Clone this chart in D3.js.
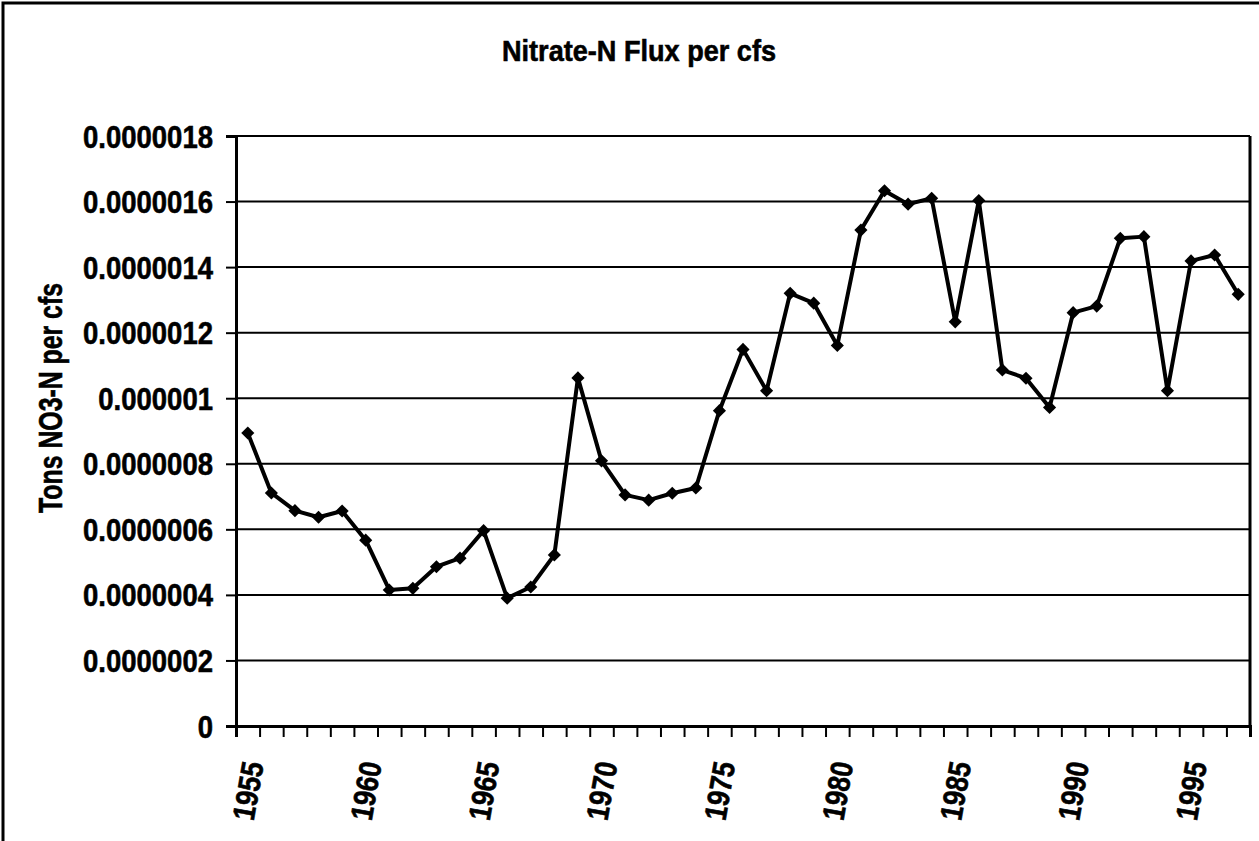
<!DOCTYPE html>
<html>
<head>
<meta charset="utf-8">
<script src="https://cdn.jsdelivr.net/npm/d3@7"></script>
<style>
  body { margin: 0; background: #fff; }
  text { font-family: "Liberation Sans", Arial, sans-serif; font-weight: bold; fill: #000; stroke: #000; stroke-width: 0.6; }
</style>
</head>
<body>
<div id="chart"></div>
<script>
// years on the category axis
const years = d3.range(1955, 1998);
// Nitrate-N flux per cfs (tons)
const flux = [
  8.94e-7, 7.11e-7, 6.57e-7, 6.37e-7, 6.56e-7, 5.67e-7, 4.15e-7, 4.2e-7, 4.86e-7, 5.12e-7,
  5.96e-7, 3.9e-7, 4.24e-7, 5.22e-7, 10.62e-7, 8.09e-7, 7.05e-7, 6.89e-7, 7.1e-7, 7.26e-7,
  9.62e-7, 11.49e-7, 10.23e-7, 13.2e-7, 12.9e-7, 11.61e-7, 15.13e-7, 16.33e-7, 15.92e-7, 16.1e-7,
  12.33e-7, 16.03e-7, 10.86e-7, 10.61e-7, 9.72e-7, 12.61e-7, 12.81e-7, 14.88e-7, 14.93e-7, 10.23e-7,
  14.19e-7, 14.37e-7, 13.17e-7
];
const yTicks = [0, 2e-7, 4e-7, 6e-7, 8e-7, 10e-7, 12e-7, 14e-7, 16e-7, 18e-7];
const yTickLabels = ["0", "0.0000002", "0.0000004", "0.0000006", "0.0000008",
  "0.000001", "0.0000012", "0.0000014", "0.0000016", "0.0000018"];
const xLabelYears = [1955, 1960, 1965, 1970, 1975, 1980, 1985, 1990, 1995];

const width = 1259, height = 841;
const plotL = 236, plotR = 1250, plotT = 136, plotB = 726;

const svg = d3.select('#chart').append('svg').attr('width', width).attr('height', height);

// outer chart frame
svg.append('rect').attr('x', 3).attr('y', 3).attr('width', 1300).attr('height', 900)
  .attr('fill', 'none').attr('stroke', '#000').attr('stroke-width', 3);

const x = d3.scaleBand().domain(years).range([plotL, plotR]);
const xEdge = d3.scaleLinear().domain([0, years.length]).range([plotL, plotR]);
const y = d3.scaleLinear().domain([0, 18e-7]).range([plotB, plotT]);

// gridlines
svg.append('g').selectAll('line').data(yTicks.slice(1)).join('line')
  .attr('x1', plotL).attr('x2', plotR)
  .attr('y1', d => y(d)).attr('y2', d => y(d))
  .attr('stroke', '#000').attr('stroke-width', 2);

// right border of plot
svg.append('line').attr('x1', plotR).attr('x2', plotR).attr('y1', plotT).attr('y2', plotB)
  .attr('stroke', '#000').attr('stroke-width', 3);

// y axis
const yAxis = svg.append('g').attr('transform', `translate(${plotL},0)`)
  .call(d3.axisLeft(y).tickValues(yTicks).tickSize(10).tickFormat(''));
yAxis.select('.domain').attr('stroke-width', 3);
yAxis.selectAll('.tick line').attr('stroke-width', 2);

svg.append('g').selectAll('text').data(yTicks).join('text')
  .attr('transform', d => `translate(213,${y(d)}) scale(0.86,1)`)
  .attr('text-anchor', 'end').attr('dy', '0.36em')
  .attr('font-size', 32)
  .text((d, i) => yTickLabels[i]);

// x axis, ticks between categories
const xAxis = svg.append('g').attr('transform', `translate(0,${plotB})`)
  .call(d3.axisBottom(xEdge).tickValues(d3.range(years.length + 1)).tickSize(11).tickFormat(''));
xAxis.select('.domain').attr('stroke-width', 3);
xAxis.selectAll('.tick line').attr('stroke-width', 2);

svg.append('g').selectAll('text').data(xLabelYears).join('text')
  .attr('transform', d => `translate(${x(d) + x.bandwidth() / 2 + 5},762) rotate(-80) scale(0.85,1)`)
  .attr('text-anchor', 'end').attr('dy', '0.36em')
  .attr('font-size', 31)
  .text(d => d);

// series line + diamond markers
const line = d3.line().x((d, i) => x(years[i]) + x.bandwidth() / 2).y(d => y(d));
svg.append('path').datum(flux).attr('d', line)
  .attr('fill', 'none').attr('stroke', '#000').attr('stroke-width', 4)
  .attr('stroke-linejoin', 'round');

svg.append('g').selectAll('path').data(flux).join('path')
  .attr('d', d3.symbol(d3.symbolDiamond2, 110))
  .attr('transform', (d, i) => `translate(${x(years[i]) + x.bandwidth() / 2},${y(d)})`)
  .attr('fill', '#000');

// titles
svg.append('text').attr('x', 639).attr('y', 61).attr('text-anchor', 'middle')
  .attr('font-size', 30).attr('textLength', 274).attr('lengthAdjust', 'spacingAndGlyphs')
  .text('Nitrate-N Flux per cfs');

svg.append('text').attr('transform', 'translate(62,398) rotate(-90)')
  .attr('text-anchor', 'middle').attr('font-size', 33)
  .attr('textLength', 230).attr('lengthAdjust', 'spacingAndGlyphs')
  .text('Tons NO3-N per cfs');
</script>
</body>
</html>
